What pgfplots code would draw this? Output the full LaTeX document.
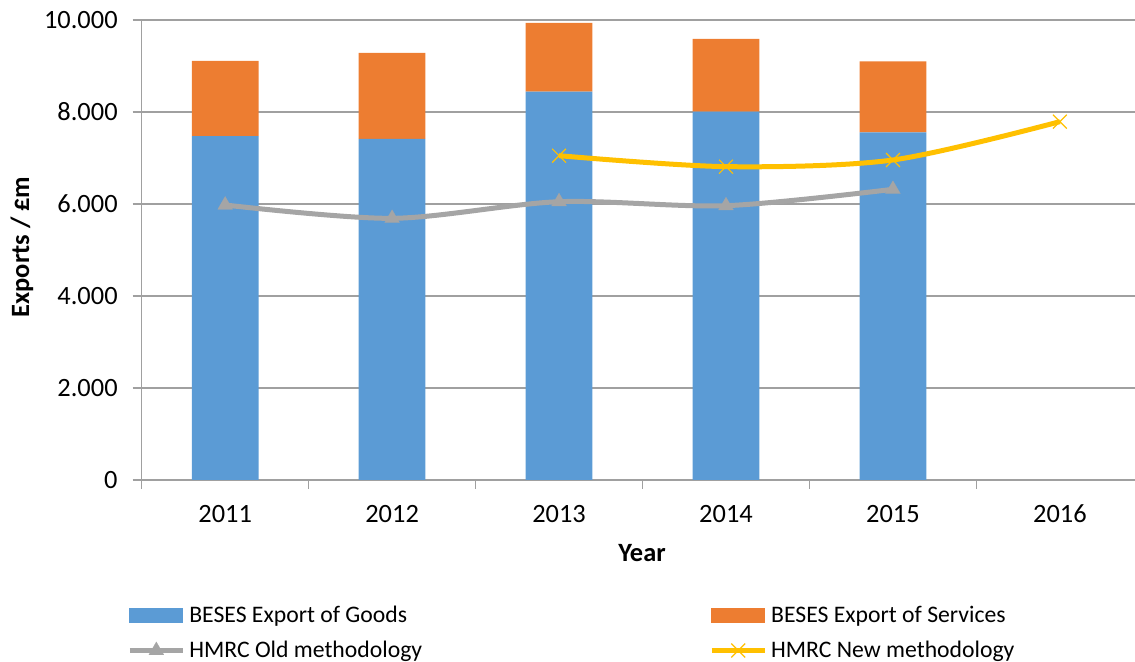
\documentclass[border=0pt]{standalone}
\usepackage{fontspec}
\setmainfont{Carlito}
\usepackage{pgfplots}
\pgfplotsset{compat=1.18}
\definecolor{cgoods}{HTML}{5B9BD5}
\definecolor{cserv}{HTML}{ED7D31}
\definecolor{cold}{HTML}{A5A5A5}
\definecolor{cnew}{HTML}{FFC000}
\definecolor{cgrid}{RGB}{160,160,160}
\pgfplotsset{
  lineleg/.style={legend image code/.code={\draw[##1, mark repeat=2, mark phase=2] plot coordinates {(0pt,0pt)(13.25pt,0pt)(26.5pt,0pt)};}},
}

\begin{document}
\begin{tikzpicture}
\pgfplotsset{base/.style={scale only axis, width=496.65pt, height=230pt,
  xmin=-0.5, xmax=5.45, ymin=0, ymax=10000, at={(0pt,0pt)}, anchor=south west}}
\path[use as bounding box] (-70.85pt,-91pt) rectangle (496.65pt,240pt);
\begin{axis}[base, ybar stacked, bar width=0.4,
  axis x line*=bottom, axis y line*=left,
  axis line style={cgrid, line width=0.7pt},
  ymajorgrids, grid style={cgrid, line width=0.7pt},
  ytick={0,2000,...,10000},
  xtick={0,...,5}, xticklabels={2011,2012,2013,2014,2015,2016},
  minor xtick={-0.5,0.5,1.5,2.5,3.5,4.5},
  tick align=outside,
  major tick length=4.5pt, minor tick length=4.5pt,
  major x tick style={draw=none},
  tick style={cgrid, line width=0.7pt},
  scaled y ticks=false,
  /pgf/number format/assume math mode=true,
  tick label style={font=\fontsize{13.2}{16}\selectfont},
  yticklabel style={xshift=-4pt, /pgf/number format/.cd, 1000 sep={.}},
  xticklabel style={yshift=-4.5pt},
  xlabel={Year}, ylabel={Exports / £m},
  every axis x label/.style={at={(axis description cs:0.5037,-0.1587)}, anchor=center,
    font=\fontsize{13.2}{16}\selectfont\bfseries},
  every axis y label/.style={at={(axis description cs:-0.1205,0.5065)}, rotate=90, anchor=center,
    font=\fontsize{13.2}{16}\selectfont\bfseries},
]
\addplot[fill=cgoods, draw=none] coordinates {(0,7478)(1,7413)(2,8442)(3,8007)(4,7558)};
\addplot[fill=cserv, draw=none] coordinates {(0,1631)(1,1870)(2,1493)(3,1580)(4,1543)};
\end{axis}
\begin{axis}[base, axis lines=none, ticks=none,
  legend columns=2,
  legend style={at={(-0.0209,-0.255)}, anchor=north west, draw=none,
    font=\fontsize{11.85}{14}\selectfont, row sep=3.8pt,
    /tikz/every even column/.append style={column sep=141.5pt}},
  legend cell align=left,
]
\addlegendimage{legend image code/.code={\fill[cgoods] (0pt,-3.3pt) rectangle (26.5pt,3.3pt);}}
\addlegendentry{BESES Export of Goods}
\addlegendimage{legend image code/.code={\fill[cserv] (0pt,-3.3pt) rectangle (26.5pt,3.3pt);}}
\addlegendentry{BESES Export of Services}
\addplot[cold, line width=2.5pt, smooth, mark=triangle*, mark size=4.3pt,
  mark options={fill=cold, draw=cold, line width=0.1pt}, lineleg]
  coordinates {(0,5978)(1,5688)(2,6050)(3,5963)(4,6319)};
\addlegendentry{HMRC Old methodology}
\addplot[cnew, line width=2.5pt, smooth, mark=x, mark size=4.9pt,
  mark options={draw=cnew, line width=0.6pt}, lineleg]
  coordinates {(2,7050)(3,6812)(4,6957)(5,7790)};
\addlegendentry{HMRC New methodology}
\end{axis}
\end{tikzpicture}
\end{document}
